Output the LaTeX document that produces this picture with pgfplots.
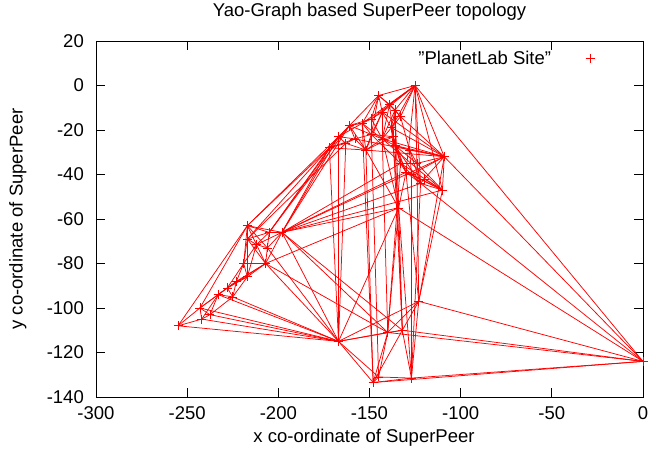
\documentclass[border=0pt]{standalone}
\usepackage{pgfplots}
\pgfplotsset{compat=1.18}
\usepackage{pgfplotstable}
\usepackage{fontspec}
\setmainfont{Liberation Sans}
\newcommand{\gfont}{\fontsize{18.5pt}{22pt}\selectfont}
\pgfplotsset{mylegimg/.style={legend image code/.code={\path[draw=none,fill=none] (0pt,-4pt) rectangle (72pt,4pt); \draw[mark repeat=2,mark phase=2,##1] plot coordinates {(0pt,0pt)(37pt,0pt)(72pt,0pt)};}}}

\pgfplotstableread{
x y
-125 0
-145 -4.5
-139 -8.5
-136 -11
-143 -12
-161 -18
-154 -17
-167 -23
-172 -28
-152 -29
-143 -24
-109 -32
-130 -39
-122 -44
-110 -47
-124 -35
-149 -15
-138 -19
-133 -14
-158 -24
-163 -26
-149 -22
-136 -27
-128 -29
-133 -35
-127 -40
-120 -42
-137 -23
-134 -55
-217 -63
-198 -66
-205 -66
-217 -69
-212 -71.5
-206 -73
-219 -80
-207 -80
-217 -86
-223 -88
-228 -91
-233 -94
-225 -95
-243 -100
-237.5 -103
-242 -105
-255 -108
-167 -115
-140 -111
-132 -110
-123 -97
-148 -133.5
-145 -131
-127 -131.5
0 -124
}\nodes

\pgfplotstableread{
x1 y1 x2 y2
-125 0 -145 -4.5
-125 0 -139 -8.5
-125 0 -136 -11
-125 0 -143 -12
-125 0 -149 -15
-125 0 -154 -17
-125 0 -109 -32
-125 0 -124 -35
-125 0 -130 -39
-125 0 -122 -44
-125 0 -133 -14
-125 0 -138 -19
-125 0 -110 -47
-145 -4.5 -139 -8.5
-145 -4.5 -143 -12
-145 -4.5 -149 -15
-145 -4.5 -161 -18
-145 -4.5 -154 -17
-145 -4.5 -136 -11
-145 -4.5 -149 -22
-139 -8.5 -136 -11
-139 -8.5 -143 -12
-139 -8.5 -133 -14
-139 -8.5 -137 -23
-139 -8.5 -143 -24
-136 -11 -138 -19
-136 -11 -133 -14
-136 -11 -136 -27
-136 -11 -134 -55
-136 -11 -143 -24
-136 -11 -137 -23
-143 -12 -149 -15
-143 -12 -138 -19
-143 -12 -143 -24
-143 -12 -152 -29
-143 -12 -109 -32
-143 -12 -149 -22
-161 -18 -154 -17
-161 -18 -167 -23
-161 -18 -149 -15
-161 -18 -158 -24
-161 -18 -172 -28
-161 -18 -149 -22
-161 -18 -152 -29
-154 -17 -149 -15
-154 -17 -149 -22
-154 -17 -152 -29
-154 -17 -143 -24
-149 -15 -149 -22
-149 -15 -143 -24
-167 -23 -172 -28
-167 -23 -158 -24
-167 -23 -163 -26
-167 -23 -154 -17
-172 -28 -163 -26
-172 -28 -152 -29
-172 -28 -158 -24
-152 -29 -158 -24
-152 -29 -149 -22
-152 -29 -143 -24
-152 -29 -163 -26
-152 -29 -137 -23
-158 -24 -149 -22
-143 -24 -149 -22
-143 -24 -137 -23
-143 -24 -138 -19
-143 -24 -109 -32
-143 -24 -136 -27
-137 -23 -136 -27
-136 -27 -128 -29
-136 -27 -138 -19
-136 -27 -124 -35
-136 -27 -130 -39
-133 -14 -138 -19
-133 -14 -128 -29
-128 -29 -124 -35
-128 -29 -127 -40
-128 -29 -122 -44
-124 -35 -109 -32
-124 -35 -122 -44
-133 -35 -130 -39
-130 -39 -122 -44
-137 -23 -130 -39
-122 -44 -120 -42
-122 -44 -136 -27
-122 -44 -133 -35
-120 -42 -110 -47
-120 -42 -109 -32
-109 -32 -110 -47
-109 -32 -138 -19
-109 -32 -136 -27
-109 -32 -128 -29
-109 -32 -127 -40
-109 -32 -133 -14
-109 -32 -152 -29
-109 -32 -158 -24
-110 -47 -127 -40
-110 -47 -130 -39
-110 -47 -122 -44
-110 -47 -133 -35
-110 -47 -124 -35
-110 -47 -143 -24
-127 -40 -130 -39
-133 -35 -136 -27
-163 -26 -158 -24
-138 -19 -137 -23
-133 -35 -124 -35
-137 -23 -133 -35
-149 -22 -137 -23
-149 -22 -133 -35
-167 -23 -167 -115
-163 -26 -167 -115
-172 -28 -167 -115
-152 -29 -148 -133.5
-149 -22 -145 -131
-143 -24 -140 -111
-137 -23 -132 -110
-136 -27 -132 -110
-130 -39 -123 -97
-124 -35 -123 -97
-109 -32 -123 -97
-122 -44 -127 -131.5
-127 -40 -127 -131.5
-133 -35 -140 -111
-134 -55 -127 -131.5
-134 -55 -167 -115
-138 -19 -134 -55
-130 -39 -134 -55
-143 -24 -134 -55
-134 -55 -140 -111
-134 -55 -132 -110
-152 -29 -134 -55
-110 -47 -123 -97
-154 -17 -148 -133.5
-217 -63 -172 -28
-217 -63 -167 -23
-217 -69 -172 -28
-205 -66 -167 -23
-198 -66 -172 -28
-198 -66 -167 -23
-198 -66 -161 -18
-198 -66 -109 -32
-198 -66 -110 -47
-198 -66 -122 -44
-205 -66 -172 -28
-198 -66 -134 -55
-198 -66 -130 -39
-217 -69 -163 -26
-207 -80 -134 -55
-198 -66 -133 -35
-205 -66 -161 -18
-198 -66 -167 -115
-207 -80 -167 -115
-225 -95 -167 -115
-237.5 -103 -167 -115
-242 -105 -167 -115
-255 -108 -167 -115
-206 -73 -167 -115
-233 -94 -167 -115
-198 -66 -140 -111
-198 -66 -132 -110
-207 -80 -140 -111
-243 -100 -167 -115
-217 -63 -217 -69
-217 -63 -205 -66
-217 -63 -198 -66
-217 -63 -212 -71.5
-217 -63 -219 -80
-217 -63 -255 -108
-217 -63 -243 -100
-217 -63 -206 -73
-217 -69 -212 -71.5
-217 -69 -207 -80
-212 -71.5 -206 -73
-212 -71.5 -219 -80
-212 -71.5 -217 -86
-206 -73 -205 -66
-205 -66 -198 -66
-198 -66 -206 -73
-198 -66 -207 -80
-212 -71.5 -207 -80
-206 -73 -207 -80
-217 -69 -219 -80
-219 -80 -217 -86
-219 -80 -207 -80
-219 -80 -228 -91
-217 -86 -207 -80
-217 -86 -223 -88
-217 -86 -228 -91
-217 -86 -225 -95
-207 -80 -223 -88
-207 -80 -228 -91
-223 -88 -228 -91
-223 -88 -233 -94
-228 -91 -233 -94
-228 -91 -225 -95
-228 -91 -243 -100
-233 -94 -243 -100
-233 -94 -225 -95
-233 -94 -242 -105
-243 -100 -242 -105
-243 -100 -237.5 -103
-237.5 -103 -242 -105
-242 -105 -255 -108
-243 -100 -255 -108
-225 -95 -237.5 -103
-219 -80 -223 -88
-217 -69 -217 -86
-205 -66 -212 -71.5
-198 -66 -212 -71.5
-217 -69 -205 -66
-233 -94 -237.5 -103
-223 -88 -225 -95
-167 -115 -140 -111
-167 -115 -132 -110
-167 -115 -148 -133.5
-167 -115 -145 -131
-140 -111 -132 -110
-140 -111 -148 -133.5
-140 -111 -145 -131
-132 -110 -123 -97
-132 -110 -127 -131.5
-132 -110 -148 -133.5
-123 -97 -127 -131.5
-123 -97 -140 -111
-148 -133.5 -145 -131
-145 -131 -127 -131.5
-148 -133.5 -127 -131.5
-123 -97 -167 -115
0 -124 -125 0
0 -124 -109 -32
0 -124 -122 -44
0 -124 -134 -55
0 -124 -123 -97
0 -124 -132 -110
0 -124 -127 -131.5
0 -124 -148 -133.5
0 -124 -140 -111
}\edges

\begin{document}
\begin{tikzpicture}
\useasboundingbox (-96pt,-60pt) rectangle (560pt,397pt);
\begin{axis}[
  at={(0,0)}, anchor=south west,
  scale only axis, width=547pt, height=356pt,
  xmin=-300, xmax=0, ymin=-140, ymax=20,
  xtick={-300,-250,...,0}, ytick={-140,-120,...,20},
  minor tick num=0,
  tick align=inside, major tick length=9pt,
  axis line style={line width=0.8pt},
  every tick/.style={black, line width=0.8pt},
  /pgf/number format/assume math mode=true,
  tick label style={font=\gfont},
  xticklabel style={anchor=north, inner sep=0pt, yshift=-9pt},
  yticklabel style={anchor=east, inner sep=0pt, xshift=-12pt},
  every axis title shift=0pt,
  title={Yao-Graph based SuperPeer topology},
  title style={font=\gfont, at={(axis description cs:0.5,1.081)}, anchor=center},
  xlabel={x co-ordinate of SuperPeer},
  ylabel={y co-ordinate of SuperPeer},
  xlabel style={font=\gfont, at={(axis description cs:0.49,-0.115)}, anchor=center},
  ylabel style={font=\gfont, at={(axis description cs:-0.143,0.5)}, anchor=center},
  legend style={draw=none, fill=none, font=\gfont, at={(axis description cs:0.58,0.952)}, anchor=west, legend cell align=right},
  legend plot pos=right,
]
\addplot[red, line width=0.75pt, no markers, forget plot,
  quiver={u=\thisrow{x2}-\thisrow{x1}, v=\thisrow{y2}-\thisrow{y1}}]
  table[x=x1, y=y1] {\edges};
\addplot[red, only marks, mark=+, mark size=4.5pt, mark options={line width=0.7pt}, mylegimg]
  table[x=x, y=y] {\nodes};
\addlegendentry{\symbol{34}PlanetLab Site\symbol{34}}
\end{axis}
\end{tikzpicture}
\end{document}
